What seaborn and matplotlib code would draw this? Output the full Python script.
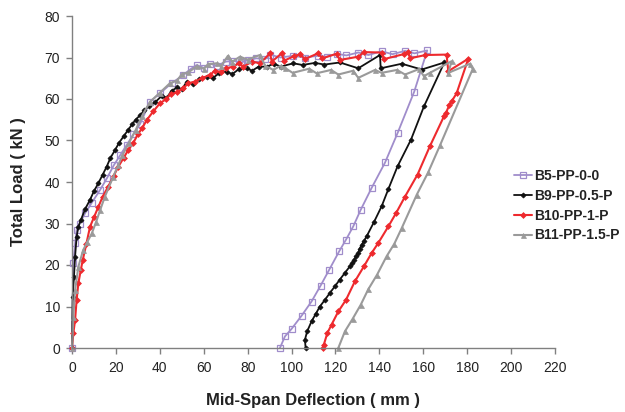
import matplotlib
matplotlib.use("Agg")
import matplotlib.pyplot as plt
import seaborn as sns
import pandas as pd

# ---------------- data (mm, kN) ----------------
b5_x = [0, 0.6, 1.4, 2.1, 3.5, 6, 9, 12.8, 16, 19, 22, 25, 28, 31, 35.5, 40.1, 45.4, 50.7,
        54, 56.8, 60, 63, 66, 70, 73.5, 77, 80.3, 84, 88, 90.1, 95, 100.5, 106, 111.9, 116,
        120.5, 125, 130.4, 135, 141, 146, 151.7, 156, 161.8,
        155.9, 148.3, 142.6, 136.5, 131.5, 128.1, 124.8, 121.7, 117.2, 113.2, 109.1, 104.6,
        100, 97, 94.7]
b5_y = [0, 20.4, 25.2, 28.4, 30, 32.5, 35, 38.1, 41, 44, 46.5, 49, 51.5, 54, 59.3, 61.4, 63.8, 65.8,
        67.2, 68.2, 67.5, 68.5, 68, 69, 69.2, 68.8, 69.4, 69.8, 69.6, 70.7, 70.0, 70.4, 70.0, 70.4, 70.2,
        70.9, 70.5, 71.2, 70.6, 71.5, 70.8, 71.6, 71.0, 71.7,
        61.8, 51.8, 44.7, 38.6, 33.3, 29.3, 26.1, 23.3, 18.9, 15.0, 11.2, 7.8,
        4.6, 2.8, 0]

b9_x = [0, 0.3, 0.9, 1.4, 2.1, 2.9, 4, 6, 8.2, 10, 12, 14, 15.8, 17.5, 19.6, 21.5, 23.5, 25.5,
        27.5, 29, 31, 33, 35, 38, 41, 43, 45.4, 48, 50, 52.3, 55, 58, 61.4, 64, 67, 70.5, 73, 76,
        79.6, 82, 85, 88.7, 92, 95, 100.8, 105, 110.6, 115, 122, 130.4, 140.3, 140.6, 150.2,
        159.3, 169.6,
        160.3, 154.4, 148.3, 144.1, 141, 137.5, 134.2, 133, 132, 131, 130.4, 129.5, 128.5, 127.5,
        126.6, 124.3, 122, 119.8, 117.5, 115.2, 112.9, 111, 109.1, 107.1, 106.1, 106.4]
b9_y = [0, 12.4, 17.2, 22, 26.8, 29.2, 30.8, 33.5, 35.7, 37.8, 39.7, 41.8, 43.7, 45.8, 47.7, 49.5,
        51, 52.5, 54, 55, 56.1, 57.3, 58.3, 59.3, 60.8, 60.2, 62.0, 62.8, 62.3, 64.2, 63.6, 64.8, 65.4,
        65, 66.2, 66.6, 66, 67.2, 67.4, 66.8, 67.8, 67.8, 68.5, 67.8, 68.6, 68.2, 68.7, 68.3, 68.8,
        67.4, 70.6, 67.4, 68.5, 67.1, 68.8,
        58.2, 50.2, 43.8, 38.3, 34.1, 30.3, 26.9, 25.8, 24.9, 23.9, 22.9, 22.2, 21.3, 20.5,
        19.7, 18.1, 16.5, 14.9, 13.3, 11.6, 10, 8.2, 6.4, 4.0, 2.0, 0]

b10_x = [0, 0.6, 1.4, 2.1, 2.9, 4, 4.9, 6.5, 8.2, 10, 12, 14, 16.5, 19, 21.1, 23.5, 25.6, 28, 30,
         32, 34, 37, 40.1, 43, 45, 48, 50.7, 53, 56, 59, 62.9, 65, 68, 70, 73.5, 76, 78, 82, 85.6,
         90.2, 91, 95.5, 96.5, 101, 104, 106, 112, 114, 120.5, 122, 130.4, 133, 141, 142, 151,
         153, 154, 161, 170.6, 171.4, 180.5,
         175.2, 172.9, 171.9, 170.3, 169.4, 163, 157.4, 151.7, 147.6, 144.1, 139.5, 136.5, 133,
         128.9, 124.8, 121.3, 118.2, 116.3, 114.7, 114.4]
b10_y = [0, 3.5, 6.7, 11.6, 15.6, 18.8, 21.2, 25, 29.2, 31.5, 34, 36.5, 38.9, 41.5, 43.7, 45.8,
         47.7, 49.5, 51.5, 53, 54.9, 57, 59, 60, 61.2, 61.6, 62.6, 63.8, 64.2, 65, 65.8, 66.8, 66.5,
         67.4, 67.8, 68.6, 67.8, 69, 68.6,
         71, 69, 71, 69.2, 70.3, 70.8, 69.6, 71.0, 69.8, 70.9, 69.4, 70.2, 71.3, 71.2, 69.6, 70.8,
         71.4, 69.8, 70.6, 70.7, 66.7, 69.7,
         61.4, 59.4, 58.6, 56.6, 55.8, 48.6, 41.8, 36.5, 32.5, 29.3, 25.3, 22.9, 19.7,
         16.1, 11.6, 8.8, 5.6, 3.6, 0.8, 0]

b11_x = [0, 0.6, 1.4, 2.9, 5.1, 7, 9, 11, 12.8, 15, 18.8, 21, 23, 26, 29, 32, 35.5, 40, 44.6, 48,
         50, 53, 56.8, 60, 62, 65.9, 68, 71, 73, 76.5, 80, 85.6, 88, 91.7, 95, 97, 100.5, 108,
         111.4, 118, 121.3, 128, 130.4, 138, 141, 148, 151.7, 158, 160.3, 163, 172.9, 171.4,
         181.3, 182.5,
         167.6, 162.3, 157, 150.2, 146.8, 143.3, 139, 134.9, 131.5, 127.8, 124.3, 121.3]
b11_y = [0, 7.5, 13.9, 19.6, 23.6, 25.6, 27.6, 30.4, 33.2, 36.5, 41.3, 44, 46.5, 49.5, 52.5, 56,
         59.3, 61.5, 63.8, 64.5, 66, 66.4, 67.9, 67.3, 68.4, 68.6, 68, 70.4, 69, 70.2, 69.5, 70.6,
         68, 67, 68, 67.5, 66.3, 67.3, 66.2, 67, 65.9, 66.8, 65.1, 67, 66.3, 67, 65.9, 67.2, 65.5,
         66.3, 69.1, 66.3, 68.5, 67.2,
         48.8, 42.4, 36.9, 28.9, 25.1, 22.1, 17.7, 14.1, 10.4, 7.0, 4.0, 0]

series_names = ["B5-PP-0-0", "B9-PP-0.5-P", "B10-PP-1-P", "B11-PP-1.5-P"]
x_ticks = list(range(0, 221, 20))
y_ticks = list(range(0, 81, 10))

# ---------------- figure ----------------
sns.set_style("ticks")
plt.rcParams["font.family"] = ["Liberation Sans", "DejaVu Sans"]

fig = plt.figure(figsize=(6.25, 4.12), dpi=100)
ax = fig.add_axes([72 / 625, 1 - 348 / 412, (555 - 72) / 625, (348 - 16) / 412])

styles = [
    dict(color="#A08DCB", marker="s", markersize=4.8, markerfacecolor="none",
         markeredgecolor="#A08DCB", markeredgewidth=0.9, linewidth=1.3),
    dict(color="#111111", marker="D", markersize=2.6, markerfacecolor="#111111",
         markeredgecolor="#111111", markeredgewidth=0.5, linewidth=1.3),
    dict(color="#EE2A2E", marker="D", markersize=3.0, markerfacecolor="#EE2A2E",
         markeredgecolor="#EE2A2E", markeredgewidth=0.5, linewidth=1.5),
    dict(color="#9A9A9A", marker="^", markersize=3.6, markerfacecolor="#9A9A9A",
         markeredgecolor="#9A9A9A", markeredgewidth=0.5, linewidth=1.5),
]
data = [(b5_x, b5_y), (b9_x, b9_y), (b10_x, b10_y), (b11_x, b11_y)]

for name, (xs, ys), st in zip(series_names, data, styles):
    df = pd.DataFrame({"x": xs, "y": ys})
    sns.lineplot(data=df, x="x", y="y", sort=False, estimator=None, ax=ax,
                 label=name, clip_on=False, **st)

ax.set_xlim(0, 220)
ax.set_ylim(0, 80)
ax.set_xticks(x_ticks)
ax.set_yticks(y_ticks)
for s in ["top", "right"]:
    ax.spines[s].set_visible(False)
for s in ["left", "bottom"]:
    ax.spines[s].set_color("#808080")
    ax.spines[s].set_linewidth(1.0)
ax.tick_params(axis="both", direction="out", length=4, width=1.0, color="#808080",
               labelsize=10, labelcolor="#222222")
ax.tick_params(axis="x", pad=5)
ax.tick_params(axis="y", pad=4.5)

ax.set_xlabel("Mid-Span Deflection ( mm )", fontsize=12, fontweight="bold", color="#222222")
ax.set_ylabel("Total Load ( kN )", fontsize=12, fontweight="bold", color="#222222")
ax.xaxis.set_label_coords(0.5, -0.135)
ax.yaxis.set_label_coords(-0.095, 0.5)

leg = ax.legend(loc="upper left", bbox_to_anchor=(514 / 625, 1 - 169 / 412),
                bbox_transform=fig.transFigure, frameon=False, borderaxespad=0,
                borderpad=0, handlelength=1.3, handletextpad=0.15, labelspacing=0.42,
                prop={"weight": "bold", "size": 10})
for t in leg.get_texts():
    t.set_color("#222222")

fig.savefig("out.png", dpi=100)
